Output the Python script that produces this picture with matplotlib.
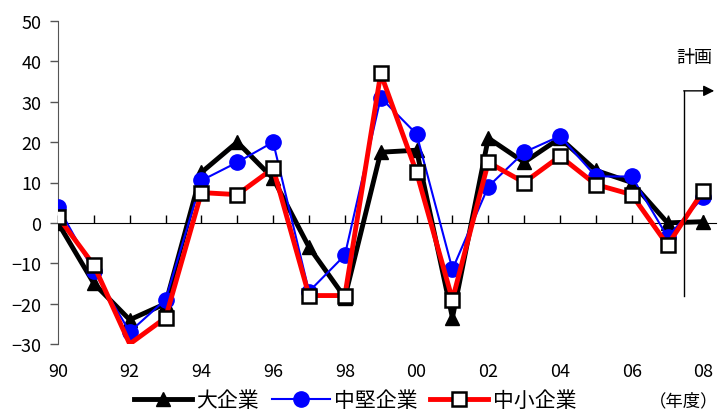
import matplotlib
matplotlib.use("Agg")
import matplotlib.pyplot as plt
import matplotlib.transforms as mtransforms

plt.rcParams['font.family'] = ['Noto Sans CJK JP', 'DejaVu Sans']
plt.rcParams['axes.unicode_minus'] = True

years = list(range(1990, 2009))
xlabels = ['90', '92', '94', '96', '98', '00', '02', '04', '06', '08']

large = [0, -15, -24, -20, 12.5, 20, 11, -6, -18.5, 17.5, 18, -23.5, 21, 15, 21, 13, 10, 0, 0.3]
mid = [4, -12, -27, -19, 10.5, 15, 20, -17, -8, 31, 22, -11.5, 9, 17.5, 21.5, 11.5, 11.5, -3.5, 6.5]
small = [1.5, -10.5, -30, -23.5, 7.5, 7, 13.5, -18, -18, 37, 12.5, -19, 15, 10, 16.5, 9.5, 7, -5.5, 8]

fig = plt.figure(figsize=(7.22, 4.14), dpi=100)
ax = fig.add_axes([58/722, 69/414, 658/722, 323/414])

ax.plot(years, large, color='black', lw=3.5, marker='^', ms=10, mfc='black', mec='black',
        label='大企業', zorder=3)
ax.plot(years, mid, color='#0000ff', lw=1.5, marker='o', ms=11, mfc='#0000ff', mec='#0000ff',
        label='中堅企業', zorder=4)
sm_marks = [i for i in range(len(years)) if i != 2]
ax.plot(years, small, color='#ff0000', lw=3.5, marker='s', ms=10, mfc='white', mec='black',
        mew=1.8, markevery=sm_marks, label='中小企業', zorder=5)

ax.set_xlim(1990, 2008.35)
ax.set_ylim(-30, 50)

for s in ['top', 'right']:
    ax.spines[s].set_visible(False)
ax.spines['bottom'].set_position(('data', 0))
ax.spines['bottom'].set_color('black')
ax.spines['bottom'].set_bounds(1990, 2008.35)
ax.spines['left'].set_color('#555555')

ax.set_xticks(years)
ax.set_xticklabels([])
ax.tick_params(axis='x', direction='in', length=6, width=1, color='black')
ax.set_yticks(range(-30, 51, 10))
ax.set_yticklabels([str(v).replace('-', '\u2212') for v in range(-30, 51, 10)], fontsize=13)
ax.tick_params(axis='y', direction='out', length=6, width=1, color='#555555', pad=6)

trans = mtransforms.blended_transform_factory(ax.transData, ax.transAxes)
for i, lab in enumerate(xlabels):
    ax.text(1990 + 2 * i, -0.085, lab, transform=trans, ha='center', va='center', fontsize=13)

# plan marker
ax.plot([2007.45, 2007.45], [-18, 32.7], color='black', lw=1, zorder=6)
ax.annotate('', xy=(2008.3, 32.7), xytext=(2007.45, 32.7),
            arrowprops=dict(arrowstyle='-|>', color='black', lw=1, mutation_scale=16,
                            shrinkA=0, shrinkB=0), zorder=6)
ax.text(2007.75, 41, '計画', fontsize=13, ha='center', va='center')

fig.legend(loc='center', bbox_to_anchor=(355/722, 1 - 401/414), ncol=3, frameon=False,
           fontsize=15, handlelength=2.8, columnspacing=0.6, handletextpad=0.2,
           borderpad=0.1)
fig.text(684/722, 1 - 401/414, '（年度）', fontsize=12.5, ha='center', va='center')

fig.savefig('out.png', dpi=100)
